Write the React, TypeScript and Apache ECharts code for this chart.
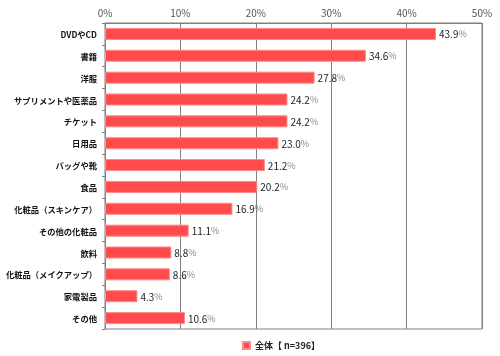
import React, { useEffect, useRef } from "react";
import * as echarts from "echarts";

const categories = [
  "DVDやCD",
  "書籍",
  "洋服",
  "サプリメントや医薬品",
  "チケット",
  "日用品",
  "バッグや靴",
  "食品",
  "化粧品（スキンケア）",
  "その他の化粧品",
  "飲料",
  "化粧品（メイクアップ）",
  "家電製品",
  "その他",
];
const values = [43.9, 34.6, 27.8, 24.2, 24.2, 23.0, 21.2, 20.2, 16.9, 11.1, 8.8, 8.6, 4.3, 10.6];
const seriesName = "全体【 n=396】";

export default function App() {
  const ref = useRef<HTMLDivElement>(null);
  useEffect(() => {
    const chart = echarts.init(ref.current!, null, { renderer: "svg" });
    chart.setOption({
      animation: false,
      textStyle: { fontFamily: "'Noto Sans CJK JP', sans-serif" },
      grid: {
        left: 105,
        right: 18,
        top: 23,
        bottom: 27,
        containLabel: false,
        outerBoundsMode: "none",
        show: true,
        borderColor: "#808080",
        borderWidth: 1,
        backgroundColor: "transparent",
      },
      legend: {
        show: true,
        bottom: 1,
        left: 237,
        itemWidth: 7,
        itemHeight: 7,
        itemGap: 3,
        icon: "rect",
        textStyle: { fontSize: 9, color: "#222", fontWeight: "bold" },
        data: [seriesName],
      },
      xAxis: {
        type: "value",
        position: "top",
        min: 0,
        max: 50,
        interval: 10,
        axisLine: { show: true, lineStyle: { color: "#808080" } },
        axisTick: { show: false },
        axisLabel: { formatter: "{value}%", fontSize: 10, color: "#555", margin: 6 },
        splitLine: { show: true, lineStyle: { color: "#808080", width: 1 } },
      },
      yAxis: {
        type: "category",
        data: categories,
        inverse: true,
        axisLine: { show: true, lineStyle: { color: "#808080" } },
        axisTick: { show: true, length: 3, lineStyle: { color: "#808080" } },
        axisLabel: { fontSize: 8.3, color: "#111", fontWeight: "bold", margin: 8 },
      },
      series: [
        {
          name: seriesName,
          type: "bar",
          data: values,
          barWidth: 12,
          itemStyle: { color: "#FF4B4B", borderColor: "#FF8A8A", borderWidth: 1 },
          label: {
            show: true,
            position: "right",
            distance: 3,
            formatter: (p: any) => `{a|${p.value.toFixed(1)}}{b|%}`,
            rich: {
              a: { fontSize: 10, color: "#222" },
              b: { fontSize: 9, color: "#888" },
            },
          },
        },
      ],
    });
    return () => chart.dispose();
  }, []);
  return <div ref={ref} style={{ position: "fixed", left: 0, top: 0, width: 500, height: 356 }} />;
}
